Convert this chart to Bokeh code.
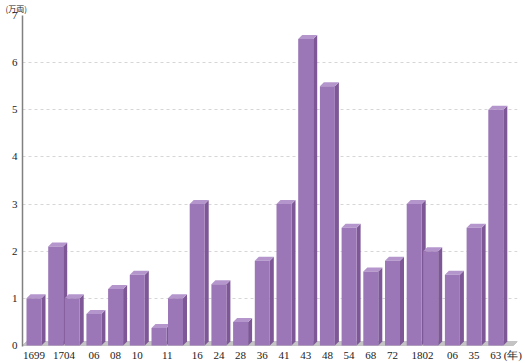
from bokeh.plotting import figure
from bokeh.models import Range1d, FixedTicker, CustomJSTickFormatter
from bokeh.embed import file_html
from bokeh.resources import INLINE

# ---- data ----
year_labels = ["1699", "1704", "06", "08", "10", "11", "16", "24", "28", "36",
               "41", "43", "48", "54", "68", "72", "1802", "06", "35", "63"]
# values per year (some years have two bars)
year_values = [[1.0], [2.1, 1.0], [0.67], [1.2], [1.5], [0.37, 1.0], [3.0], [1.3],
               [0.5], [1.8], [3.0], [6.5], [5.5], [2.5], [1.57], [1.8], [3.0, 2.0],
               [1.5], [2.5], [5.0]]
y_ticks = [0, 1, 2, 3, 4, 5, 6, 7]
unit_label = "(万両)"
year_unit = "(年)"

# ---- styling / layout constants ----
W, H = 525, 363
ML, MR, MT, MB = 22, 8, 15, 16
X0, X1 = 22, 517                  # data x == image pixel x
frame_h = H - MT - MB
PPU = (frame_h - 1) / 7.0          # pixels per unit
Y0 = -1 / PPU
START, SLOT, PAIR, BW = 26.0, 21.7, 16.5, 15.0
DX, DY = 4.0, 4.0 / PPU
FRONT, SIDE, TOP = "#9c77b7", "#7d5796", "#b596cc"
FONT = "Liberation Serif"

p = figure(width=W, height=H, output_backend="svg", toolbar_location=None,
           x_range=Range1d(X0, X1), y_range=Range1d(Y0, 7),
           min_border_left=ML, min_border_right=MR, min_border_top=MT,
           min_border_bottom=MB)
p.outline_line_color = None
p.background_fill_color = "white"
p.xgrid.grid_line_color = None
p.ygrid.ticker = FixedTicker(ticks=y_ticks[1:])
p.ygrid.grid_line_color = "#d6d6d6"
p.ygrid.grid_line_dash = "3 3"

# unit label as the (left aligned) title
p.title.text = unit_label
p.title.align = "left"
p.title.offset = -17
p.title.standoff = 0
p.title.vertical_align = "top"
p.title.text_font = "Noto Sans CJK JP"
p.title.text_font_size = "8px"
p.title.text_font_style = "normal"
p.title.text_color = "#222222"

# floor
p.patch([X0, X1 - DX, X1, X0 + DX], [0, 0, DY, DY], fill_color="#c4c4c4",
        line_color="#b0b0b0", line_width=0.6)

xs, ys, cols = [], [], []
tick_pos = []
left = START
for grp in year_values:
    centers = []
    for j, v in enumerate(grp):
        l = left + j * PAIR
        r = l + BW
        # side
        xs.append([r, r + DX, r + DX, r]); ys.append([0, DY, v + DY, v]); cols.append(SIDE)
        # top
        xs.append([l, l + DX, r + DX, r]); ys.append([v, v + DY, v + DY, v]); cols.append(TOP)
        # front
        xs.append([l, r, r, l]); ys.append([0, 0, v, v]); cols.append(FRONT)
        centers.append((l + r) / 2)
    tick_pos.append(sum(centers) / len(centers))
    left += SLOT + (len(grp) - 1) * PAIR

p.patches(xs, ys, fill_color=cols, line_color=None)

# axes
for ax in (p.xaxis, p.yaxis):
    ax.major_tick_out = 0
    ax.major_tick_in = 0
    ax.minor_tick_out = 0
    ax.minor_tick_in = 0
    ax.major_tick_line_color = None
    ax.minor_tick_line_color = None
    ax.major_label_text_font = FONT
    ax.major_label_text_font_size = "11px"
    ax.major_label_text_color = "#222222"

p.yaxis.ticker = FixedTicker(ticks=y_ticks)
p.yaxis.axis_line_color = "#808080"
p.yaxis.axis_line_width = 1.5
p.yaxis.major_label_standoff = 5

# x ticks: one per year, plus the unit marker after the last year
x_ticks = tick_pos + [tick_pos[-1] + 17]
x_texts = year_labels + [year_unit]
p.xaxis.ticker = FixedTicker(ticks=x_ticks)
p.xaxis.formatter = CustomJSTickFormatter(
    args=dict(pos_list=x_ticks, label_list=x_texts),
    code="const i = pos_list.indexOf(tick); return i >= 0 ? label_list[i] : '';")
p.xaxis.axis_line_color = None
p.xaxis.major_label_standoff = 2

open("out.html", "w").write(file_html(p, INLINE))
